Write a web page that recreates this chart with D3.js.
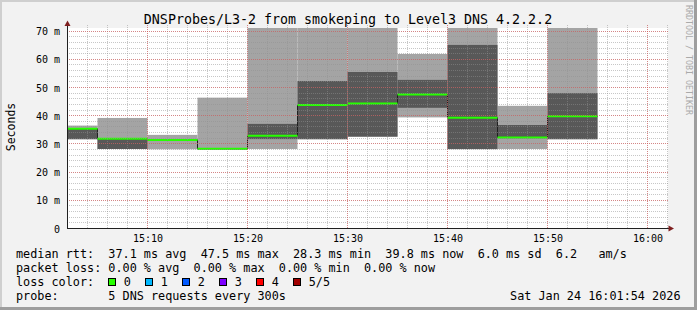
<!DOCTYPE html>
<html>
<head>
<meta charset="utf-8">
<script src="https://cdn.jsdelivr.net/npm/d3@7"></script>
<style>
  html, body { margin: 0; padding: 0; background: #f2f2f2; }
  svg { display: block; }
  text { font-family: "DejaVu Sans Mono", monospace; fill: #000; }
</style>
</head>
<body>
<svg class="chart" width="697" height="310"></svg>
<script>
// 5 minute steps, start time of each step
var stepStart = ["15:00", "15:05", "15:10", "15:15", "15:20", "15:25", "15:30", "15:35", "15:40", "15:45", "15:50"];
// the 5 sorted pings per step (ms), p3 is the median
var ping1 = [31.6, 28.2, 28.1, 27.9, 28.2, 31.6, 32.5, 39.4, 28.1, 28.2, 31.6];
var ping2 = [31.7, 28.2, 31.2, 28.1, 31.7, 31.7, 32.6, 42.8, 28.2, 32.0, 31.7];
var median = [35.4, 31.8, 31.4, 28.3, 32.9, 43.8, 44.3, 47.5, 39.3, 32.3, 39.8];
var ping4 = [35.3, 31.7, 31.6, 28.5, 37.1, 52.3, 55.5, 52.7, 65.1, 36.7, 48.0];
var ping5 = [36.5, 39.2, 33.2, 46.4, 85.0, 90.0, 88.0, 61.9, 80.0, 43.5, 82.0];
var loss = [0, 0, 0, 0, 0, 0, 0, 0, 0, 0, 0];

var lossColors = ["#26ff00", "#00b8ff", "#0059ff", "#7e00ff", "#ff0000", "#a10000"];
var lossLabels = ["0", "1", "2", "3", "4", "5/5"];

var yTicks = [0, 10, 20, 30, 40, 50, 60, 70];
var legendRtt = "median rtt:  37.1 ms avg  47.5 ms max  28.3 ms min  39.8 ms now  6.0 ms sd  6.2   am/s";
var legendLoss = "packet loss: 0.00 % avg  0.00 % max  0.00 % min  0.00 % now";
var legendProbe = "probe:       5 DNS requests every 300s";
var stamp = "Sat Jan 24 16:01:54 2026";
var title = "DNSProbes/L3-2 from smokeping to Level3 DNS 4.2.2.2";

var parse = d3.timeParse("%H:%M");
var rows = stepStart.map(function (s, i) {
  var t = parse(s);
  return { t0: t, t1: d3.timeMinute.offset(t, 5), p1: ping1[i], p2: ping2[i], med: median[i], p4: ping4[i], p5: ping5[i], loss: loss[i] };
});

var vis = d3.select(".chart"),
    WIDTH = 697, HEIGHT = 310,
    PLOT = { left: 67, right: 668, top: 28, bottom: 228.5 };

var xScale = d3.scaleTime().domain([parse("15:02"), parse("16:02")]).range([67.5, 667.5]),
    yScale = d3.scaleLinear().domain([0, 71.1]).range([228.5, 28]);

// frame
vis.append("rect").attr("width", WIDTH).attr("height", HEIGHT).attr("fill", "#f2f2f2");
vis.append("path").attr("d", "M0,0H697V2H2V310H0Z").attr("fill", "#cfcfcf");
vis.append("path").attr("d", "M697,0V310H0V307H694V0Z").attr("fill", "#9e9e9e");

vis.append("rect")
    .attr("x", PLOT.left).attr("y", PLOT.top)
    .attr("width", PLOT.right - PLOT.left).attr("height", PLOT.bottom - PLOT.top)
    .attr("fill", "#fff");

vis.append("clipPath").attr("id", "plotclip")
  .append("rect")
    .attr("x", PLOT.left).attr("y", PLOT.top)
    .attr("width", PLOT.right - PLOT.left).attr("height", PLOT.bottom - PLOT.top);

var plot = vis.append("g").attr("clip-path", "url(#plotclip)");

// smoke
plot.selectAll("rect.outer").data(rows).enter().append("rect")
    .attr("class", "outer")
    .attr("x", function (d) { return xScale(d.t0); })
    .attr("width", function (d) { return xScale(d.t1) - xScale(d.t0); })
    .attr("y", function (d) { return yScale(d.p5); })
    .attr("height", function (d) { return yScale(d.p1) - yScale(d.p5); })
    .attr("fill", "#a4a4a4");

plot.selectAll("rect.inner").data(rows).enter().append("rect")
    .attr("class", "inner")
    .attr("x", function (d) { return xScale(d.t0); })
    .attr("width", function (d) { return xScale(d.t1) - xScale(d.t0); })
    .attr("y", function (d) { return yScale(d.p4); })
    .attr("height", function (d) { return yScale(d.p2) - yScale(d.p4); })
    .attr("fill", "#585858");

// grid
var minorX = d3.timeMinute.every(2).range(xScale.domain()[0], d3.timeMinute.offset(xScale.domain()[1], 1)),
    majorX = xScale.ticks(d3.timeMinute.every(10)),
    minorY = d3.range(0, 72, 2);

var grid = vis.append("g").attr("shape-rendering", "crispEdges").attr("stroke-dasharray", "1,1");
grid.selectAll("line.mx").data(minorX).enter().append("line")
    .attr("x1", xScale).attr("x2", xScale)
    .attr("y1", PLOT.top - 3).attr("y2", PLOT.bottom)
    .attr("stroke", "rgba(143,143,143,0.5)");
grid.selectAll("line.my").data(minorY).enter().append("line")
    .attr("x1", PLOT.left).attr("x2", PLOT.right)
    .attr("y1", yScale).attr("y2", yScale)
    .attr("stroke", "rgba(143,143,143,0.5)");
grid.selectAll("line.Mx").data(majorX).enter().append("line")
    .attr("x1", xScale).attr("x2", xScale)
    .attr("y1", PLOT.top - 3).attr("y2", PLOT.bottom)
    .attr("stroke", "rgba(222,80,80,0.55)");
grid.selectAll("line.My").data(yTicks).enter().append("line")
    .attr("x1", PLOT.left).attr("x2", PLOT.right)
    .attr("y1", yScale).attr("y2", yScale)
    .attr("stroke", "rgba(222,80,80,0.55)");

// median line
var last = rows[rows.length - 1];
var medPts = rows.map(function (d) { return [d.t0, d.med]; }).concat([[last.t1, last.med]]);
var lineGen = d3.line()
    .curve(d3.curveStepAfter)
    .x(function (d) { return xScale(d[0]); })
    .y(function (d) { return yScale(d[1]); });

plot.append("path")
    .attr("d", lineGen(medPts))
    .attr("stroke", "#202020")
    .attr("stroke-width", 1)
    .attr("fill", "none");

plot.selectAll("line.med").data(rows).enter().append("line")
    .attr("x1", function (d) { return xScale(d.t0); })
    .attr("x2", function (d) { return xScale(d.t1); })
    .attr("y1", function (d) { return yScale(d.med); })
    .attr("y2", function (d) { return yScale(d.med); })
    .attr("stroke", function (d) { return lossColors[d.loss]; })
    .attr("stroke-width", 2);

// axes
var yAxis = d3.axisLeft(yScale).tickValues(yTicks).tickSize(0).tickPadding(7)
    .tickFormat(function (v) { return v === 0 ? "0" : v + " m"; });
var xAxis = d3.axisBottom(xScale).ticks(d3.timeMinute.every(10)).tickSize(0).tickPadding(6)
    .tickFormat(d3.timeFormat("%H:%M"));

var gy = vis.append("g").attr("transform", "translate(" + PLOT.left + ",0)").call(yAxis);
var gx = vis.append("g").attr("transform", "translate(0," + PLOT.bottom + ")").call(xAxis);
[gx, gy].forEach(function (g) {
  g.select(".domain").remove();
  g.selectAll("text").attr("font-family", "DejaVu Sans Mono").attr("font-size", "10px").attr("fill", "#000");
});
gy.selectAll("text").attr("dy", "0.36em");

vis.append("line").attr("x1", 67.5).attr("x2", 67.5).attr("y1", 228.5).attr("y2", 23)
    .attr("stroke", "#202020").attr("shape-rendering", "crispEdges");
vis.append("line").attr("x1", 67).attr("x2", 670).attr("y1", 228.5).attr("y2", 228.5)
    .attr("stroke", "#202020").attr("shape-rendering", "crispEdges");
vis.append("path").attr("d", "M67.5,20.5L70.5,26L64.5,26Z").attr("fill", "#7f1f1f");
vis.append("path").attr("d", "M674,228.5L668.5,225.5L668.5,231.5Z").attr("fill", "#7f1f1f");

// titles
vis.append("text").attr("x", 348).attr("y", 23.5).attr("text-anchor", "middle")
    .attr("font-size", "13.3px").text(title);
vis.append("text").attr("transform", "translate(15,127) rotate(-90)").attr("text-anchor", "middle")
    .attr("font-size", "11.5px").text("Seconds");
vis.append("text").attr("transform", "translate(685.5,60) rotate(90)").attr("text-anchor", "middle")
    .attr("font-size", "8.3px").style("fill", "#aaaaaa").text("RRDTOOL / TOBI OETIKER");

// legend
function legendText(x, y, s, anchor) {
  return vis.append("text").attr("x", x).attr("y", y)
      .attr("xml:space", "preserve").style("white-space", "pre")
      .attr("text-anchor", anchor || "start")
      .attr("font-size", "11.8px").text(s);
}
legendText(16, 258.3, legendRtt);
legendText(16, 272.2, legendLoss);
legendText(16, 286.1, "loss color:");
legendText(16, 300, legendProbe);
legendText(680.5, 300, stamp, "end");

var boxes = vis.selectAll("g.lc").data(lossColors).enter().append("g")
    .attr("transform", function (d, i) { return "translate(" + (108 + i * 37) + ",0)"; });
boxes.append("rect").attr("x", 0.5).attr("y", 278.5).attr("width", 7).attr("height", 7)
    .attr("fill", function (d) { return d; }).attr("stroke", "#000");
boxes.append("text").attr("x", 15.7).attr("y", 286.1).attr("font-size", "11.8px")
    .text(function (d, i) { return lossLabels[i]; });
</script>
</body>
</html>
